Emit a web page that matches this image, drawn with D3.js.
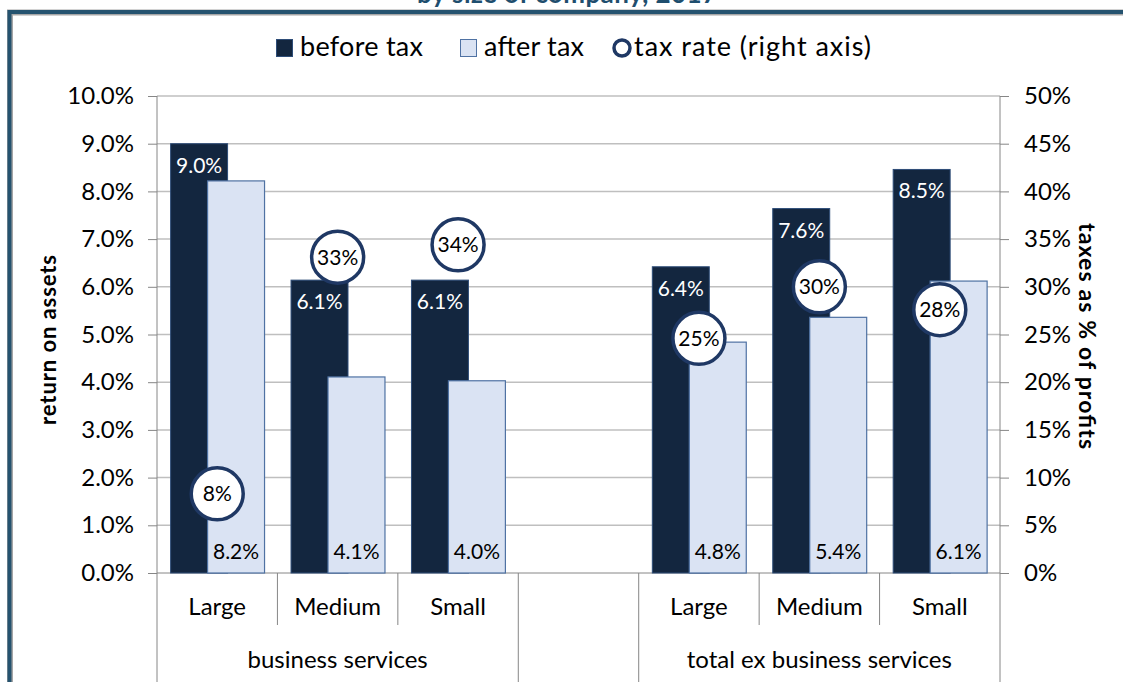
<!DOCTYPE html>
<meta charset="utf-8">
<style>
  body { margin: 0; background: #fff; }
  svg { display: block; font-family: Lato, "Noto Sans", sans-serif; }
</style>

<!-- Load d3.js -->
<script src="https://d3js.org/d3.v7.min.js"></script>

<div id="my_dataviz"></div>

<script>

// data
var sizes = ["Large", "Medium", "Small", "", "Large", "Medium", "Small"];
var groups = ["business services", "business services", "business services", "",
              "total ex business services", "total ex business services", "total ex business services"];
var beforeTax = [9.0, 6.14, 6.14, null, 6.42, 7.64, 8.46];
var afterTax  = [8.22, 4.11, 4.03, null, 4.84, 5.36, 6.12];
var taxRate   = [8.3, 33.1, 34.4, null, 24.6, 30.0, 27.6];
var leftTicks  = [0, 1, 2, 3, 4, 5, 6, 7, 8, 9, 10];
var rightTicks = [0, 5, 10, 15, 20, 25, 30, 35, 40, 45, 50];

var W = 1123, H = 682;
var margin = {top: 96, right: 123, bottom: 109, left: 157},
  width = W - margin.left - margin.right,
  height = H - margin.top - margin.bottom;

var darkBlue = "#13263f", lightBlue = "#dae3f3", ringBlue = "#1f3864";

var root = d3.select("#my_dataviz")
  .append("svg")
    .attr("width", W)
    .attr("height", H);

// frame + title that is cut off at the top (as in the source image)
root.append("text")
  .attr("x", 567).attr("y", 3)
  .attr("text-anchor", "middle")
  .attr("textLength", 300)
  .style("font-weight", "bold")
  .style("font-size", "26px")
  .style("fill", "#1f4e6e")
  .text("by size of company, 2017");
root.append("path")
  .attr("d", "M10,682 V12.5 H1123")
  .style("fill", "none")
  .style("stroke", "#a6a6a6")
  .style("stroke-width", 6);
root.append("path")
  .attr("d", "M9.5,682 V12 H1123")
  .style("fill", "none")
  .style("stroke", "#25536f")
  .style("stroke-width", 4);

var svg = root.append("g")
  .attr("transform", "translate(" + margin.left + "," + margin.top + ")");

var idx = d3.range(sizes.length);
var x = d3.scaleBand().domain(idx).range([0, width]).padding(0);
var y = d3.scaleLinear().domain([0, 10]).range([height, 0]);
var y2 = d3.scaleLinear().domain([0, 50]).range([height, 0]);

var bw = x.bandwidth();
var barW = bw * 0.473, darkOff = bw * 0.113, lightOff = bw * 0.42;

// grid lines
svg.selectAll("grid")
  .data(leftTicks.slice(1)).enter()
  .append("line")
    .attr("x1", 0).attr("x2", width)
    .attr("y1", function(d) { return y(d); })
    .attr("y2", function(d) { return y(d); })
    .style("stroke", "#bfbfbf")
    .style("stroke-width", 1.5);

// left axis
var axL = svg.append("g")
  .call(d3.axisLeft(y).tickValues(leftTicks).tickSize(9).tickPadding(14)
    .tickFormat(function(d) { return d.toFixed(1) + "%"; }));
// right axis
var axR = svg.append("g")
  .attr("transform", "translate(" + width + ",0)")
  .call(d3.axisRight(y2).tickValues(rightTicks).tickSize(9).tickPadding(15)
    .tickFormat(function(d) { return d + "%"; }));
[axL, axR].forEach(function(a) {
  a.select(".domain").remove();
  a.selectAll("line").style("stroke", "#868686");
  a.selectAll("text").style("font-size", "24px").style("fill", "#000").style("font-family", "Lato");
});
svg.append("line").attr("x1", 0).attr("x2", 0).attr("y1", 0).attr("y2", H - margin.top)
  .style("stroke", "#868686");
svg.append("line").attr("x1", width).attr("x2", width).attr("y1", 0).attr("y2", H - margin.top)
  .style("stroke", "#868686");
svg.append("line").attr("x1", 0).attr("x2", width).attr("y1", height).attr("y2", height)
  .style("stroke", "#868686");

// category dividers: long at group boundaries, short inside a group
svg.selectAll("divider")
  .data(idx.slice(1)).enter()
  .append("line")
    .attr("x1", function(i) { return x(i); })
    .attr("x2", function(i) { return x(i); })
    .attr("y1", height)
    .attr("y2", function(i) { return groups[i] !== groups[i - 1] ? H - margin.top : height + 52; })
    .style("stroke", "#868686");

// category labels
svg.selectAll("catLabel")
  .data(idx).enter()
  .append("text")
    .attr("x", function(i) { return x(i) + bw / 2; })
    .attr("y", height + 42)
    .attr("text-anchor", "middle")
    .style("font-size", "24px")
    .text(function(i) { return sizes[i]; });

// group labels
var groupNames = Array.from(new Set(groups)).filter(function(g) { return g !== ""; });
svg.selectAll("grpLabel")
  .data(groupNames).enter()
  .append("text")
    .attr("x", function(g) {
      var members = idx.filter(function(i) { return groups[i] === g; });
      return (x(members[0]) + x(members[members.length - 1]) + bw) / 2;
    })
    .attr("y", height + 95)
    .attr("text-anchor", "middle")
    .style("font-size", "24px")
    .text(function(g) { return g; });

var valid = idx.filter(function(i) { return beforeTax[i] != null; });

// before tax bars
svg.selectAll("darkBar")
  .data(valid).enter()
  .append("rect")
    .attr("x", function(i) { return x(i) + darkOff; })
    .attr("y", function(i) { return y(beforeTax[i]); })
    .attr("width", barW)
    .attr("height", function(i) { return height - y(beforeTax[i]); })
    .style("fill", darkBlue)
    .style("stroke", "#2e4d78")
    .style("stroke-width", 1);

// after tax bars
svg.selectAll("lightBar")
  .data(valid).enter()
  .append("rect")
    .attr("x", function(i) { return x(i) + lightOff; })
    .attr("y", function(i) { return y(afterTax[i]); })
    .attr("width", barW)
    .attr("height", function(i) { return height - y(afterTax[i]); })
    .style("fill", lightBlue)
    .style("stroke", "#4f72a3")
    .style("stroke-width", 1.2);

// before tax labels (white, top of bar)
svg.selectAll("darkLab")
  .data(valid).enter()
  .append("text")
    .attr("x", function(i) { return x(i) + darkOff + barW / 2; })
    .attr("y", function(i) { return y(beforeTax[i]) + 29; })
    .attr("text-anchor", "middle")
    .style("font-size", "21px")
    .style("fill", "#fff")
    .text(function(i) { return beforeTax[i].toFixed(1) + "%"; });

// after tax labels (black, bottom of bar)
svg.selectAll("lightLab")
  .data(valid).enter()
  .append("text")
    .attr("x", function(i) { return x(i) + lightOff + barW / 2; })
    .attr("y", height - 14)
    .attr("text-anchor", "middle")
    .style("font-size", "21px")
    .style("fill", "#000")
    .text(function(i) { return afterTax[i].toFixed(1) + "%"; });

// tax rate markers
var rings = svg.selectAll("ring")
  .data(valid).enter()
  .append("g")
    .attr("transform", function(i) { return "translate(" + (x(i) + bw / 2) + "," + y2(taxRate[i]) + ")"; });
rings.append("circle")
  .attr("r", 26)
  .style("fill", "#fff")
  .style("stroke", ringBlue)
  .style("stroke-width", 3.5);
rings.append("text")
  .attr("y", 7.5)
  .attr("text-anchor", "middle")
  .style("font-size", "21px")
  .text(function(i) { return Math.round(taxRate[i]) + "%"; });

// axis titles
root.append("text")
  .attr("transform", "translate(56,340) rotate(-90)")
  .attr("text-anchor", "middle")
  .attr("textLength", 170)
  .style("font-weight", "bold")
  .style("font-size", "22px")
  .text("return on assets");
root.append("text")
  .attr("transform", "translate(1079,336) rotate(90)")
  .attr("text-anchor", "middle")
  .attr("textLength", 226)
  .style("font-weight", "bold")
  .style("font-size", "23px")
  .text("taxes as % of profits");

// legend
var legend = root.append("g");
legend.append("rect").attr("x", 276.5).attr("y", 39.5).attr("width", 16).attr("height", 17)
  .style("fill", darkBlue).style("stroke", "#2e4d78");
legend.append("text").attr("x", 300).attr("y", 56).attr("textLength", 123).style("font-size", "27px").text("before tax");
legend.append("rect").attr("x", 460.5).attr("y", 39.5).attr("width", 16).attr("height", 17)
  .style("fill", lightBlue).style("stroke", "#4f72a3");
legend.append("text").attr("x", 484).attr("y", 56).attr("textLength", 100).style("font-size", "27px").text("after tax");
legend.append("circle").attr("cx", 622).attr("cy", 48).attr("r", 8)
  .style("fill", "#fff").style("stroke", ringBlue).style("stroke-width", 3.5);
legend.append("text").attr("x", 634).attr("y", 56).attr("textLength", 237).style("font-size", "27px").text("tax rate (right axis)");

</script>
